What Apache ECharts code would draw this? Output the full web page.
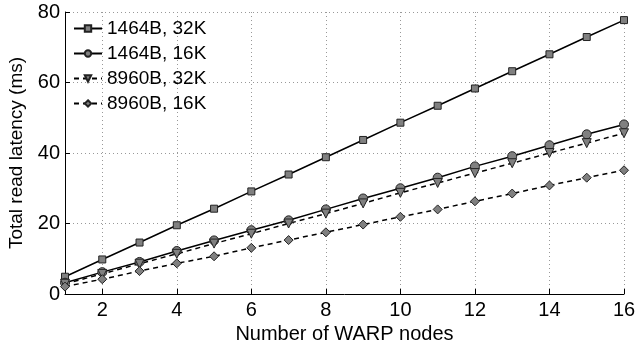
<!DOCTYPE html>
<html>
<head>
<meta charset="utf-8">
<script src="https://cdn.jsdelivr.net/npm/echarts@6/dist/echarts.min.js"></script>
<style>
html, body { margin: 0; padding: 0; background: #fff; }
#chart { width: 636px; height: 345px; }
</style>
</head>
<body>
<div id="chart"></div>
<script>
// x: number of WARP nodes
var nodes = [1, 2, 3, 4, 5, 6, 7, 8, 9, 10, 11, 12, 13, 14, 15, 16];
var xTicks = [2, 4, 6, 8, 10, 12, 14, 16];
var seriesNames = ['1464B, 32K', '1464B, 16K', '8960B, 32K', '8960B, 16K'];
var lat1464_32 = [4.9, 9.8, 14.6, 19.5, 24.2, 29.1, 33.9, 38.8, 43.7, 48.6, 53.4, 58.3, 63.2, 68.0, 72.9, 77.7];
var lat1464_16 = [3.2, 6.2, 9.1, 12.2, 15.2, 18.1, 20.9, 24.0, 27.1, 30.0, 33.0, 36.2, 39.1, 42.2, 45.3, 48.1];
var lat8960_32 = [2.9, 5.7, 8.6, 11.4, 14.3, 17.1, 20.0, 22.8, 25.7, 28.7, 31.5, 34.3, 37.1, 40.0, 42.8, 45.6];
var lat8960_16 = [2.1, 4.2, 6.5, 8.7, 10.7, 13.1, 15.3, 17.5, 19.7, 21.9, 24.0, 26.3, 28.5, 30.8, 33.0, 35.1];

var font = 'Liberation Sans, Arial, Helvetica, sans-serif';

function pairs(vals) {
    var out = [];
    for (var i = 0; i < nodes.length; i++) {
        out.push([nodes[i], vals[i]]);
    }
    return out;
}

function makeSeries(name, vals, symbol, size, dashed, rotate) {
    return {
        name : name,
        type : 'line',
        data : pairs(vals),
        symbol : symbol,
        symbolSize : size,
        symbolRotate : rotate || 0,
        showAllSymbol : true,
        animation : false,
        lineStyle : {
            color : '#000',
            width : 1.5,
            type : dashed ? [5, 4] : 'solid'
        },
        itemStyle : {
            color : '#808080',
            borderColor : '#222',
            borderWidth : 1
        }
    };
}

var chart = echarts.init(document.getElementById('chart'));
var option = {
    backgroundColor : '#fff',
    textStyle : { fontFamily : font },
    grid : {
        left : 65,
        right : 12,
        top : 12,
        bottom : 51,
        containLabel : false,
        outerBoundsMode : 'none'
    },
    legend : {
        orient : 'vertical',
        left : 68,
        top : 14,
        itemWidth : 28,
        itemHeight : 8,
        itemGap : 6,
        data : seriesNames,
        textStyle : {
            fontFamily : font,
            fontSize : 19,
            color : '#000'
        }
    },
    xAxis : {
        type : 'value',
        min : 1,
        max : 16,
        name : 'Number of WARP nodes',
        nameLocation : 'middle',
        nameGap : 26,
        nameTextStyle : { fontSize : 20, color : '#000', fontFamily : font },
        axisLine : { lineStyle : { color : '#000', width : 1 } },
        axisTick : {
            inside : true,
            length : 5,
            customValues : xTicks,
            lineStyle : { color : '#000' }
        },
        axisLabel : {
            customValues : xTicks,
            fontSize : 20,
            color : '#000',
            margin : 6
        },
        splitLine : {
            show : true,
            lineStyle : { color : '#999', type : [1, 3], width : 1 }
        }
    },
    yAxis : {
        type : 'value',
        min : 0,
        max : 80,
        interval : 20,
        name : 'Total read latency (ms)',
        nameLocation : 'middle',
        nameGap : 39,
        nameTextStyle : { fontSize : 19, color : '#000', fontFamily : font },
        axisLine : { show : true, lineStyle : { color : '#000', width : 1 } },
        axisTick : { show : true, inside : true, length : 5, lineStyle : { color : '#000' } },
        axisLabel : { fontSize : 20, color : '#000', margin : 5 },
        splitLine : {
            show : true,
            lineStyle : { color : '#999', type : [1, 3], width : 1 }
        }
    },
    series : [
        makeSeries(seriesNames[0], lat1464_32, 'rect', 7, false),
        makeSeries(seriesNames[1], lat1464_16, 'circle', 9, false),
        makeSeries(seriesNames[2], lat8960_32, 'triangle', 9, true, 180),
        makeSeries(seriesNames[3], lat8960_16, 'diamond', 9, true)
    ]
};
chart.setOption(option);
</script>
</body>
</html>
